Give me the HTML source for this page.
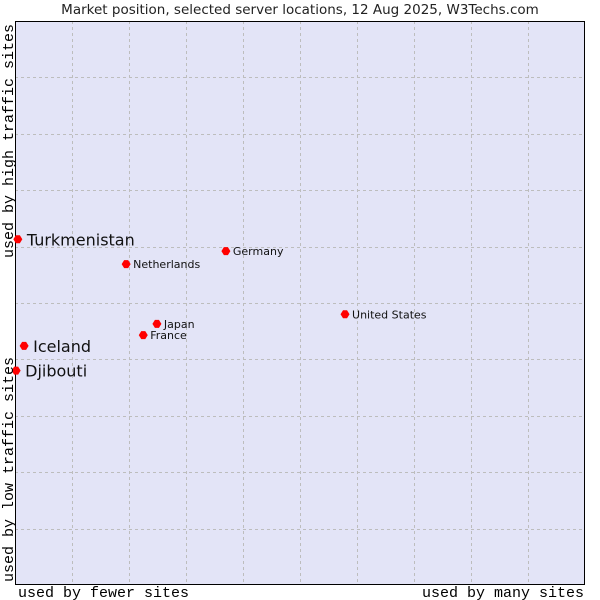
<!DOCTYPE html>
<html><head><meta charset="utf-8"><style>
body{margin:0;background:#fff;}
svg{display:block;}
</style></head><body>
<svg id="chart" width="600" height="600" xmlns="http://www.w3.org/2000/svg">
<rect x="0" y="0" width="600" height="600" fill="#fff"/>
<text x="300" y="14" text-anchor="middle" font-family="DejaVu Sans, sans-serif" font-size="13.5" fill="#222">Market position, selected server locations, 12 Aug 2025, W3Techs.com</text>
<rect x="15" y="21" width="570" height="564" fill="#e3e4f7"/>
<g id="grid"></g>
<line x1="15.5" y1="21" x2="15.5" y2="585" stroke="#000"/>
<line x1="15" y1="21.5" x2="585" y2="21.5" stroke="#000"/>
<line x1="15" y1="584.5" x2="585" y2="584.5" stroke="#000"/>
<line x1="584.5" y1="21" x2="584.5" y2="585" stroke="#000"/>
<g id="points"></g>
<text x="18" y="597" font-family="Liberation Mono, monospace" font-size="15" fill="#000">used by fewer sites</text>
<text x="584" y="597" text-anchor="end" font-family="Liberation Mono, monospace" font-size="15" fill="#000">used by many sites</text>
<text transform="translate(13,582) rotate(-90)" font-family="Liberation Mono, monospace" font-size="15" fill="#000">used by low traffic sites</text>
<text transform="translate(13,24) rotate(-90)" text-anchor="end" font-family="Liberation Mono, monospace" font-size="15" fill="#000">used by high traffic sites</text>
</svg>
<script>
const names = ["Turkmenistan","Netherlands","Germany","United States","Japan","France","Iceland","Djibouti"];
const xValues = [0.5,19.5,37.0,57.9,24.9,22.5,1.6,0.2];
const yValues = [61.3,56.9,59.2,48.0,46.3,44.3,42.4,38.0];
const bigLabel = [true,false,false,false,false,false,true,true];
const NS="http://www.w3.org/2000/svg";
const L=15,R=585,T=21,B=585;
function xs(v){return L+v/100*(R-L);}
function ys(v){return B-v/100*(B-T);}
const grid=document.getElementById('grid');
for(let i=1;i<10;i++){
  const px=Math.round(xs(i*10))+0.5, py=Math.round(ys(i*10))+0.5;
  const gx=document.createElementNS(NS,'line');
  gx.setAttribute('x1',px);gx.setAttribute('x2',px);
  gx.setAttribute('y1',T);gx.setAttribute('y2',B);
  gx.setAttribute('stroke','#bdbdbd');gx.setAttribute('stroke-dasharray','3,3');
  
  
  grid.appendChild(gx);
  const gy=document.createElementNS(NS,'line');
  gy.setAttribute('y1',py);gy.setAttribute('y2',py);
  gy.setAttribute('x1',L);gy.setAttribute('x2',R);
  gy.setAttribute('stroke','#bdbdbd');gy.setAttribute('stroke-dasharray','3,3');
  
  
  grid.appendChild(gy);
}
const pts=document.getElementById('points');
names.forEach((n,i)=>{
  const cx=xs(xValues[i]),cy=ys(yValues[i]);
  const d=document.createElementNS(NS,'path');
  d.setAttribute('d',`M${cx-4.5},${cy} L${cx-2},${cy-4} L${cx+2},${cy-4} L${cx+4.5},${cy} L${cx+2},${cy+4} L${cx-2},${cy+4} Z`);
  d.setAttribute('fill','#ff0000');
  
  
  pts.appendChild(d);
  const t=document.createElementNS(NS,'text');
  const big=bigLabel[i];
  t.setAttribute('x',cx+(big?9:7));
  t.setAttribute('y',cy+(big?6:4));
  t.setAttribute('font-family','DejaVu Sans, sans-serif');
  t.setAttribute('font-size',big?16:11);
  t.setAttribute('fill','#111');
  t.textContent=n;
  
  
  pts.appendChild(t);
});
</script>
</body></html>
